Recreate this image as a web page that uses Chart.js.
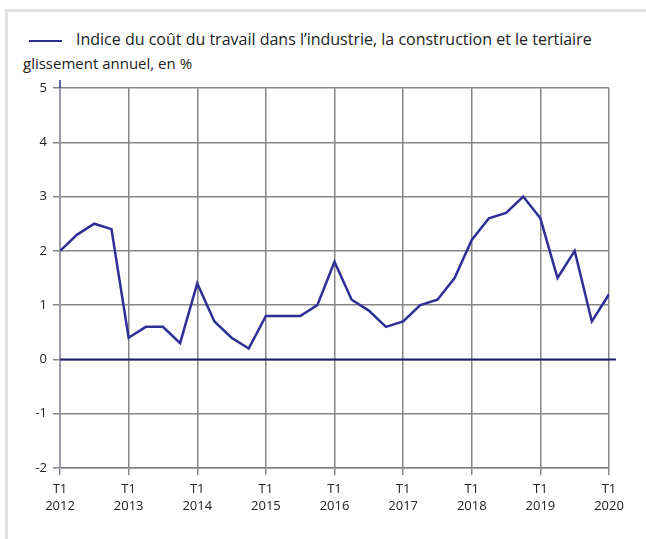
<!DOCTYPE html>
<html>
<head>
<meta charset="utf-8">
<script src="https://cdn.jsdelivr.net/npm/chart.js@4"></script>
<style>
  html, body { margin: 0; padding: 0; background: #fff; }
  #wrap { position: relative; width: 646px; height: 539px; overflow: hidden; font-family: "Open Sans", sans-serif; color: #222; }
  #frame { position: absolute; left: 5px; top: 9px; width: 700px; height: 600px; border-top: 3px solid #e2e2e2; border-left: 3px solid #e2e2e2; }
  #swatch { position: absolute; left: 29px; top: 40px; width: 33px; height: 2px; background: #2e2e96; }
  #legend { position: absolute; left: 76px; top: 28px; font-size: 16px; line-height: 22px; white-space: nowrap; }
  #ytitle { position: absolute; left: 23px; top: 53px; font-size: 15px; line-height: 20px; white-space: nowrap; }
  canvas { position: absolute; left: 0; top: 0; }
</style>
</head>
<body>
<div id="wrap">
  <div id="frame"></div>
  <div id="swatch"></div>
  <div id="legend"></div>
  <div id="ytitle"></div>
  <canvas id="c" width="646" height="539"></canvas>
</div>
<script>
const seriesName = "Indice du coût du travail dans l’industrie, la construction et le tertiaire";
const yAxisTitle = "glissement annuel, en %";
const quarters = [
  "2012T1","2012T2","2012T3","2012T4",
  "2013T1","2013T2","2013T3","2013T4",
  "2014T1","2014T2","2014T3","2014T4",
  "2015T1","2015T2","2015T3","2015T4",
  "2016T1","2016T2","2016T3","2016T4",
  "2017T1","2017T2","2017T3","2017T4",
  "2018T1","2018T2","2018T3","2018T4",
  "2019T1","2019T2","2019T3","2019T4",
  "2020T1"
];
const values = [
  2.0, 2.3, 2.5, 2.4,
  0.4, 0.6, 0.6, 0.3,
  1.4, 0.7, 0.4, 0.2,
  0.8, 0.8, 0.8, 1.0,
  1.8, 1.1, 0.9, 0.6,
  0.7, 1.0, 1.1, 1.5,
  2.2, 2.6, 2.7, 3.0,
  2.6, 1.5, 2.0, 0.7,
  1.2
];
const yTicks = [-2, -1, 0, 1, 2, 3, 4, 5];

document.getElementById('legend').textContent = seriesName;
document.getElementById('ytitle').textContent = yAxisTitle;

const gridGray = '#858585';
const lineColor = '#2e2e96';
const zeroColor = '#1c1c6e';

const extraLines = {
  id: 'extraLines',
  afterDatasetsDraw(chart) {
    const { ctx, chartArea, scales } = chart;
    const y = scales.y.getPixelForValue(0);
    ctx.save();
    ctx.strokeStyle = zeroColor;
    ctx.lineWidth = 2;
    ctx.beginPath();
    ctx.moveTo(chartArea.left, y);
    ctx.lineTo(chartArea.right + 7, y);
    ctx.stroke();
    ctx.lineWidth = 1.5;
    ctx.strokeStyle = '#2a2a8a';
    ctx.beginPath();
    ctx.moveTo(chartArea.left, chartArea.top - 8);
    ctx.lineTo(chartArea.left, chartArea.top);
    ctx.stroke();
    ctx.restore();
  }
};

new Chart(document.getElementById('c'), {
  type: 'line',
  data: {
    datasets: [{
      label: seriesName,
      data: values.map((v, i) => ({ x: i, y: v })),
      borderColor: lineColor,
      backgroundColor: lineColor,
      borderWidth: 2.5,
      pointRadius: 0,
      tension: 0,
      fill: false
    }]
  },
  options: {
    responsive: false,
    animation: false,
    devicePixelRatio: 1,
    layout: { padding: { left: 0, top: 88, right: 37, bottom: 0 } },
    plugins: { legend: { display: false }, title: { display: false }, tooltip: { enabled: false } },
    scales: {
      x: {
        type: 'linear',
        min: 0,
        max: quarters.length - 1,
        afterBuildTicks(scale) {
          scale.ticks = quarters.map((q, i) => ({ value: i })).filter(t => quarters[t.value].endsWith('T1'));
        },
        afterFit(scale) { scale.height = 71; },
        ticks: {
          autoSkip: false,
          maxRotation: 0,
          padding: 6,
          color: '#222',
          font: { family: 'Open Sans', size: 13, lineHeight: 1.3 },
          callback(v) { const q = quarters[v]; return [q.slice(4), q.slice(0, 4)]; }
        },
        grid: { color: gridGray, lineWidth: 1.5, tickLength: 7, tickColor: gridGray },
        border: { color: gridGray, width: 1.5 }
      },
      y: {
        min: yTicks[0],
        max: yTicks[yTicks.length - 1],
        afterBuildTicks(scale) { scale.ticks = yTicks.map(v => ({ value: v })); },
        afterFit(scale) { scale.width = 60; },
        ticks: {
          padding: 6,
          color: '#222',
          font: { family: 'Open Sans', size: 13 }
        },
        grid: { color: gridGray, lineWidth: 1.5, tickLength: 7, tickColor: gridGray },
        border: { color: '#9a9aa8', width: 2 }
      }
    }
  },
  plugins: [extraLines]
});
</script>
</body>
</html>
